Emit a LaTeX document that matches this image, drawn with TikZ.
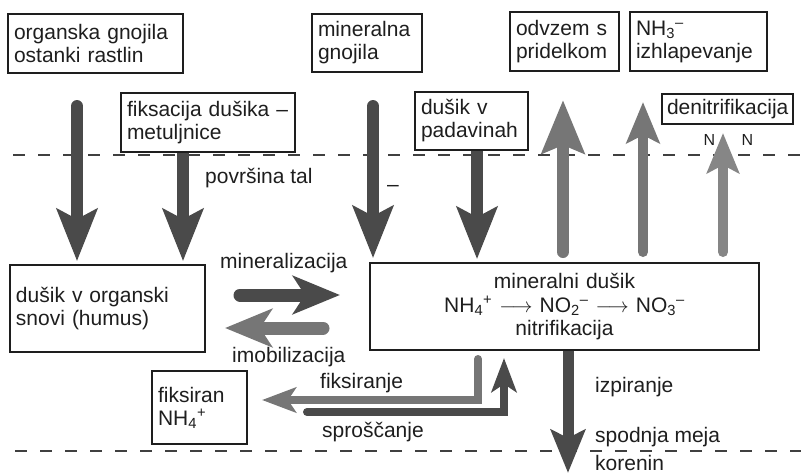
\documentclass[tikz,border=0pt]{standalone}
\usepackage{fontspec}
\setmainfont{Liberation Sans}
\usetikzlibrary{arrows.meta}
\definecolor{ink}{HTML}{1E1E1E}
\definecolor{dgray}{HTML}{4A4A4A}
\definecolor{mgray}{HTML}{767676}
\definecolor{lgray}{HTML}{868686}

\begin{document}
\begin{tikzpicture}[x=1pt,y=-1pt,
      every node/.style={font=\fontsize{21}{23}\selectfont,text=ink,inner sep=0pt},
      box/.style={draw=ink,line width=1.6pt,align=left,inner xsep=6pt,inner ysep=0pt},
      soil/.style={draw=ink!85,line width=2pt,dash pattern=on 12pt off 13pt},
      bigarr/.style={line width=12pt,line cap=round,-{Stealth[length=52pt,width=40pt,inset=10pt]}},
      midarr/.style={line width=10pt,line cap=round,-{Stealth[length=41pt,width=33pt,inset=8pt]}},
      sidearr/.style={line width=13pt,line cap=round,-{Stealth[length=47pt,width=38pt,inset=12pt]}},
      thinarr/.style={line width=8pt,line cap=round,-{Stealth[length=34pt,width=25pt,inset=8pt]}},
      nsym/.style={font=\fontsize{16}{18}\selectfont},
  ]
  \useasboundingbox (0,0) rectangle (801,474);

  % soil surface and root limit
  \draw[soil] (13,155) -- (801,155);
  \draw[soil] (15,451) -- (801,451);

  % sources above ground
  \node[box,text width=163pt,minimum height=59pt] (org) at (95.5,43.5)
    {organska gnojila\\ostanki rastlin};
  \node[box,text width=98pt,minimum height=58pt] (mgn) at (367,43)
    {mineralna\\gnojila};
  \node[box,text width=97pt,minimum height=59pt] (odv) at (564.5,41.5)
    {odvzem s\\pridelkom};
  \node[box,text width=125pt,minimum height=59pt] (nh3) at (698.5,41.5)
    {NH\textsubscript{3}\textsuperscript{–}\\izhlapevanje};
  \node[box,text width=162pt,minimum height=59pt] (fix) at (208,122.5)
    {fiksacija dušika –\\metuljnice};
  \node[box,text width=101pt,minimum height=58pt] (pad) at (471.5,121)
    {dušik v\\padavinah};
  \node[box,text width=121pt,inner xsep=5pt,minimum height=30pt] (den) at (727.5,109)
    {denitrifikacija};

  % pools in the soil
  \node[box,text width=183pt,minimum height=87pt] (hum) at (107.5,308.5)
    {dušik v organski\\snovi (humus)};
  \node[box,text width=377pt,align=center,minimum height=87pt] (min) at (564.5,306.5)
    {mineralni dušik\\[1pt]
     NH\textsubscript{4}\textsuperscript{+} $\longrightarrow$ NO\textsubscript{2}\textsuperscript{–}
     $\longrightarrow$ NO\textsubscript{3}\textsuperscript{–}\\
     nitrifikacija};
  \node[box,text width=83pt,minimum height=73pt] (fxd) at (199.5,407.5)
    {fiksiran\\NH\textsubscript{4}\textsuperscript{+}};

  % inputs
  \coordinate (o1) at (77,106);
  \coordinate (f1) at (183,0);
  \coordinate (m1) at (373,106);
  \coordinate (p1) at (477,0);
  \draw[bigarr,dgray,shorten >=3pt] (o1) -- (o1 |- hum.north);
  \draw[bigarr,dgray,line cap=butt,shorten >=3pt] (f1 |- fix.south) -- (f1 |- hum.north);
  \draw[bigarr,dgray,shorten >=4pt] (m1) -- (m1 |- min.north);
  \draw[bigarr,dgray,line cap=butt,shorten >=3pt] (p1 |- pad.south) -- (p1 |- min.north);

  % losses
  \coordinate (u1) at (563,252);
  \coordinate (u1e) at (563,100);
  \coordinate (u2) at (643,252);
  \coordinate (u2e) at (643,102);
  \coordinate (u3) at (723,252);
  \coordinate (u3e) at (723,133);
  \draw[bigarr,mgray,-{Stealth[length=53pt,width=42pt,inset=8pt]}] (u1) -- (u1e);
  \draw[midarr,mgray] (u2) -- (u2e);
  \draw[midarr,lgray,-{Stealth[length=40pt,width=32pt,inset=8pt]}] (u3) -- (u3e);
  \node[nsym] (n1) at (709.5,140) {N};
  \node[nsym] (n2) at (747.5,140) {N};

  % exchange between pools
  \coordinate (mz0) at (240,295);
  \coordinate (mz1) at (340,295);
  \coordinate (im0) at (323,328);
  \coordinate (im1) at (225,328);
  \draw[sidearr,dgray] (mz0) -- (mz1);
  \draw[sidearr,mgray] (im0) -- (im1);
  \coordinate (fx0) at (478,359);
  \coordinate (fx1) at (262,400);
  \coordinate (sp0) at (307,412);
  \coordinate (sp1) at (504,358);
  \draw[thinarr,mgray] (fx0) |- (fx1);
  \draw[thinarr,dgray] (sp0) -| (sp1);

  % leaching
  \coordinate (lz) at (568,473);
  \draw[line width=11pt,dgray,-{Stealth[length=43pt,width=34pt,inset=8pt]}] (lz |- min.south) -- (lz);

  % labels
  \node[anchor=base west] (tal) at (205,183) {površina tal};
  \node[anchor=base] (mark) at (393,191) {–};
  \node[anchor=base west] (minl) at (220,268) {mineralizacija};
  \node[anchor=base west] (imol) at (232,362) {imobilizacija};
  \node[anchor=base west] (fxl) at (320,388) {fiksiranje};
  \node[anchor=base west] (spl) at (322,437) {sproščanje};
  \node[anchor=base west] (izl) at (595,392) {izpiranje};
  \node[anchor=base west] (sml) at (595,442) {spodnja meja};
  \node[anchor=base west] (krl) at (595,470) {korenin};
\end{tikzpicture}
\end{document}
